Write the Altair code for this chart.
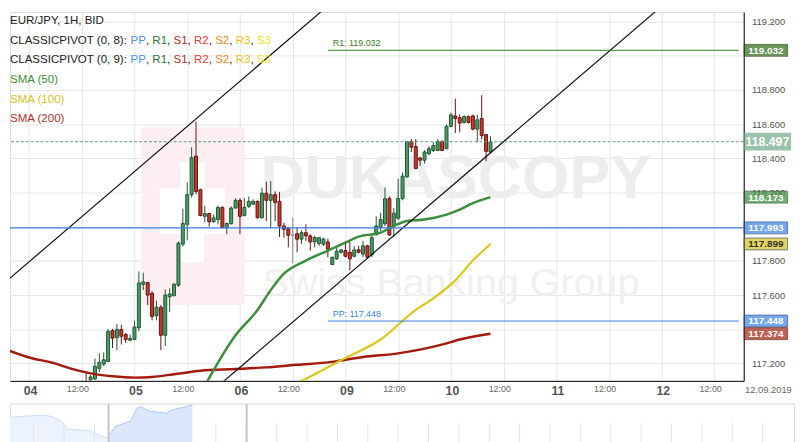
import json
import altair as alt
import pandas as pd

# ---------------- data ----------------
hours = list(range(13, 106))
opens = [117.090, 117.104, 117.109, 117.171, 117.196, 117.212, 117.392, 117.350, 117.398, 117.369,
         117.336, 117.340, 117.408, 117.663, 117.673, 117.610, 117.479, 117.529, 117.365, 117.590,
         117.596, 117.658, 117.898, 118.014, 118.187, 118.413, 118.216, 118.061, 118.077, 118.029,
         118.042, 118.113, 117.994, 118.017, 118.109, 118.154, 118.065, 118.119, 118.132, 118.148,
         118.052, 118.196, 118.154, 118.187, 118.148, 118.004, 117.988, 117.952, 117.959, 117.927,
         117.965, 117.946, 117.911, 117.902, 117.898, 117.911, 117.779, 117.812, 117.850, 117.860,
         117.850, 117.827, 117.865, 117.840, 117.888, 117.836, 117.956, 117.994, 118.017, 118.164,
         118.004, 118.050, 118.164, 118.292, 118.498, 118.469, 118.402, 118.389, 118.427, 118.446,
         118.446, 118.498, 118.456, 118.587, 118.648, 118.638, 118.610, 118.644, 118.648, 118.571,
         118.633, 118.539, 118.437]
highs = [117.150, 117.132, 117.229, 117.259, 117.265, 117.402, 117.402, 117.431, 117.427, 117.379,
         117.369, 117.450, 117.738, 117.731, 117.677, 117.623, 117.567, 117.542, 117.633, 117.639,
         117.671, 117.913, 118.106, 118.259, 118.465, 118.615, 118.223, 118.123, 118.081, 118.071,
         118.123, 118.119, 118.023, 118.119, 118.167, 118.167, 118.167, 118.177, 118.160, 118.154,
         118.229, 118.263, 118.267, 118.206, 118.202, 118.023, 117.998, 118.052, 117.998, 117.979,
         118.014, 117.956, 117.946, 117.940, 117.936, 117.930, 117.825, 117.883, 117.869, 117.917,
         117.913, 117.888, 117.888, 117.917, 117.894, 117.952, 118.061, 118.081, 118.229, 118.177,
         118.108, 118.281, 118.317, 118.500, 118.513, 118.512, 118.408, 118.448, 118.471, 118.494,
         118.512, 118.506, 118.598, 118.667, 118.748, 118.657, 118.652, 118.650, 118.656, 118.656,
         118.769, 118.542, 118.529]
lows = [117.000, 117.092, 117.104, 117.150, 117.184, 117.208, 117.290, 117.277, 117.311, 117.321,
        117.330, 117.336, 117.388, 117.629, 117.542, 117.452, 117.452, 117.278, 117.302, 117.500,
        117.594, 117.648, 117.883, 117.921, 118.171, 118.190, 118.061, 118.027, 118.000, 118.023,
        118.014, 117.992, 117.956, 118.014, 118.108, 117.956, 118.061, 118.109, 118.129, 118.048,
        118.048, 118.033, 117.994, 118.033, 117.940, 117.936, 117.879, 117.786, 117.850, 117.898,
        117.917, 117.860, 117.879, 117.888, 117.888, 117.821, 117.775, 117.806, 117.844, 117.821,
        117.744, 117.821, 117.844, 117.821, 117.812, 117.821, 117.946, 117.975, 118.004, 117.946,
        117.940, 118.038, 118.154, 118.286, 118.437, 118.337, 118.356, 118.369, 118.419, 118.437,
        118.442, 118.442, 118.454, 118.581, 118.548, 118.552, 118.604, 118.604, 118.563, 118.494,
        118.512, 118.383, 118.431]
closes = [117.050, 117.121, 117.183, 117.206, 117.221, 117.388, 117.348, 117.398, 117.359, 117.340,
          117.346, 117.413, 117.671, 117.677, 117.600, 117.475, 117.529, 117.365, 117.600, 117.606,
          117.663, 117.904, 118.019, 118.187, 118.404, 118.206, 118.065, 118.077, 118.029, 118.052,
          118.113, 117.994, 118.019, 118.109, 118.154, 118.061, 118.113, 118.148, 118.148, 118.052,
          118.196, 118.154, 118.187, 118.142, 118.004, 117.985, 117.950, 117.952, 117.927, 117.965,
          117.946, 117.911, 117.936, 117.936, 117.927, 117.869, 117.821, 117.856, 117.864, 117.827,
          117.812, 117.864, 117.850, 117.888, 117.821, 117.936, 118.004, 118.042, 118.164, 117.952,
          118.079, 118.165, 118.296, 118.498, 118.465, 118.340, 118.389, 118.437, 118.456, 118.475,
          118.498, 118.446, 118.587, 118.654, 118.633, 118.606, 118.644, 118.610, 118.571, 118.625,
          118.533, 118.441, 118.497]

sma50_h = [39, 47, 52, 55, 58, 63, 68, 72, 75, 80, 83, 86, 90, 95, 98, 101, 105]
sma50_v = [117.023, 117.365, 117.513, 117.629, 117.725, 117.802, 117.860, 117.907, 117.942,
           117.965, 118.004, 118.033, 118.042, 118.071, 118.100, 118.138, 118.173]
sma100_h = [60, 62, 71, 80, 88, 92, 97, 101, 105]
sma100_v = [117.075, 117.098, 117.219, 117.340, 117.513, 117.581, 117.686, 117.802, 117.899]
sma200_h = [-6, 0, 5, 10, 14, 19, 24, 28, 33, 39, 47, 54, 61, 69, 76, 84, 95, 98, 105]
sma200_v = [117.289, 117.235, 117.206, 117.167, 117.142, 117.125, 117.117, 117.121, 117.137,
            117.157, 117.167, 117.177, 117.192, 117.209, 117.238, 117.259, 117.317, 117.340, 117.374]

upper_h = [-6, 70]
upper_v = [117.662, 119.336]
lower_h = [40, 150]
lower_v = [117.001, 119.423]

r1_level = 119.032
pp_level = 117.448
prev_pp_level = 117.993
pivot_start = 68
last_price = 118.497

y_ticks = [117.2, 117.4, 117.6, 117.8, 118.0, 118.2, 118.4, 118.6, 118.8, 119.0, 119.2]
y_hidden = ["117.400", "118.000", "119.000"]   # labels covered by the price boxes
x_ticks = list(range(0, 157, 12))
day_names = ["04", "05", "06", "09", "10", "11", "12"]

box_values = [119.032, 118.173, 117.993, 117.899, 117.448, 117.374]
box_labels = ["119.032", "118.173", "117.993", "117.899", "117.448", "117.374"]

nav_idx = [0, 20, 40, 50, 60, 67, 80, 90, 100, 107, 108, 110, 115, 130, 137, 140, 150, 167, 173, 187, 193]
nav_val = [25.3, 27, 28, 27, 22, 14, 13, 12, 7, 5.3, 7, 10, 17, 22, 35.3, 37, 32, 30.3, 33.7, 37, 38.7]
nav_sel_start = 108
nav_sel_end = 248
nav_tick_idx = [round(1.2 + 30.8 * k, 1) for k in range(1, 26)]

# ---------------- style ----------------
OFF = 8                      # page margin: chart coords = reference coords - OFF
W, H = 752 - OFF, 382 - OFF
FONT = "Liberation Sans"
X_DOMAIN = [-3.21, 161.5]
Y_DOMAIN = [117.098, 119.256]
xscale = alt.Scale(domain=X_DOMAIN, nice=False, zero=False)
yscale = alt.Scale(domain=Y_DOMAIN, nice=False, zero=False)

day_test = "datum.value % 24 === 0"
label_expr = "%s ? %s[floor(datum.value / 24)] : '12:00'" % (day_test, json.dumps(day_names))
ylabel_expr = "indexof(%s, datum.label) >= 0 ? '' : datum.label" % json.dumps(y_hidden)

xaxis = alt.Axis(values=x_ticks, labelExpr=label_expr, grid=True, gridColor="#e6e6e6",
                 ticks=False, domain=True, domainColor="#000000", domainWidth=1,
                 labelPadding=4, labelFont=FONT,
                 labelFontSize={"condition": {"test": day_test, "value": 12.5}, "value": 9},
                 labelFontWeight={"condition": {"test": day_test, "value": "bold"}, "value": "normal"},
                 labelColor={"condition": {"test": day_test, "value": "#555555"}, "value": "#666666"},
                 labelOffset={"condition": {"test": day_test, "value": 1}, "value": -4.5},
                 labelFlush=False, labelOverlap=False, title=None, minExtent=20, maxExtent=20)
yaxis = alt.Axis(orient="right", values=y_ticks, format=".3f", labelExpr=ylabel_expr,
                 grid=True, gridColor="#e6e6e6",
                 ticks=False, domain=True, domainColor="#000000", domainWidth=1,
                 labelPadding=8, labelFontSize=9.5, labelColor="#555555", labelFont=FONT,
                 labelFlush=False, labelOverlap=False, title=None)


def X(field="h"):
    return alt.X(f"{field}:Q", scale=xscale, axis=xaxis)


def Y(field="v"):
    return alt.Y(f"{field}:Q", scale=yscale, axis=yaxis)


def px(v):
    return alt.value(v - OFF)


one = alt.Data(values=[{"a": 1}])

# ---------------- watermark ----------------
wm = [
    alt.Chart(one).mark_rect(color="#fdeff1").encode(
        x=px(141), x2=px(246), y=px(125), y2=px(305)),
    alt.Chart(one).mark_rect(color="#ffffff").encode(
        x=px(160), x2=px(226), y=px(187), y2=px(233)),
    alt.Chart(one).mark_rect(color="#ffffff").encode(
        x=px(181), x2=px(205), y=px(160), y2=px(262)),
    alt.Chart(one).mark_text(text="DUKASCOPY", font=FONT, fontSize=62, fontWeight="bold",
                             color="#ededed", align="left", baseline="alphabetic").encode(
        x=px(262), y=px(197)),
    alt.Chart(one).mark_text(text="Swiss Banking Group", font=FONT, fontSize=40,
                             color="#f0f0f0", align="left", baseline="alphabetic").encode(
        x=px(264), y=px(296)),
]

# ---------------- candles ----------------
cdf = pd.DataFrame({"h": hours, "o": opens, "hi": highs, "lo": lows, "c": closes})
cdf["dir"] = ["up" if c > o else ("down" if c < o else "flat") for o, c in zip(opens, closes)]
stroke_scale = alt.Scale(domain=["up", "down", "flat"], range=["#1d5630", "#6a1010", "#8a8a8a"])
fill_scale = alt.Scale(domain=["up", "down", "flat"], range=["#4b9a69", "#c23b2c", "#8a8a8a"])

wicks = alt.Chart(cdf).mark_rule(strokeWidth=1, clip=True).encode(
    x=X(), y=Y("lo"), y2="hi:Q", stroke=alt.Stroke("dir:N", scale=stroke_scale, legend=None))
bodies = alt.Chart(cdf).mark_bar(size=3, strokeWidth=1, clip=True, orient="vertical").encode(
    x=X(), y=Y("o"), y2="c:Q",
    fill=alt.Fill("dir:N", scale=fill_scale, legend=None),
    stroke=alt.Stroke("dir:N", scale=stroke_scale, legend=None))


def line_layer(hs, vs, color, width, interp="monotone"):
    d = pd.DataFrame({"h": hs, "v": vs})
    return alt.Chart(d).mark_line(color=color, strokeWidth=width, clip=True,
                                  interpolate=interp).encode(x=X(), y=Y())


sma200 = line_layer(sma200_h, sma200_v, "#a3190b", 2.5)
sma100 = line_layer(sma100_h, sma100_v, "#d8c81c", 2.2)
sma50 = line_layer(sma50_h, sma50_v, "#3c8d3c", 2.5)
ch_up = line_layer(upper_h, upper_v, "#111111", 1.2, "linear")
ch_lo = line_layer(lower_h, lower_v, "#111111", 1.2, "linear")

# ---------------- levels ----------------
prev_pp = alt.Chart(pd.DataFrame({"v": [prev_pp_level]})).mark_rule(
    color="#3b7fe0", strokeWidth=1.3).encode(y=Y())
price_line = alt.Chart(pd.DataFrame({"v": [last_price]})).mark_rule(
    color="#5f9a78", strokeWidth=1, strokeDash=[3, 2]).encode(y=Y())
lv = pd.DataFrame({"h": [pivot_start, pivot_start], "h1": [X_DOMAIN[1], X_DOMAIN[1]],
                   "v": [r1_level, pp_level],
                   "t": ["R1: %.3f" % r1_level, "PP: %.3f" % pp_level],
                   "col": ["#3b7a1f", "#3b7fe0"]})
lev_rules = alt.Chart(lv).mark_rule(strokeWidth=1).encode(
    x=X(), x2="h1:Q", y=Y(), stroke=alt.Stroke("col:N", scale=None))
lev_text = alt.Chart(lv).mark_text(align="left", baseline="bottom", dx=5, dy=-2,
                                   fontSize=9, font=FONT).encode(
    x=X(), y=Y(), text="t:N", color=alt.Color("col:N", scale=None))

# ---------------- right side boxes ----------------
bdf = pd.DataFrame({"v": box_values, "t": box_labels,
                    "fill": ["#2c6a12", "#3b8c3b", "#3b82e6", "#d4c61e", "#3b82e6", "#a51d0c"],
                    "stroke": ["#1a3a0a", "#1d4a1d", "#1b3c80", "#444444", "#1b3c80", "#5a0f05"],
                    "tc": ["#ffffff", "#ffffff", "#ffffff", "#333333", "#ffffff", "#ffffff"]})
boxes = alt.Chart(bdf).mark_tick(orient="horizontal", size=44, thickness=12, filled=True,
                                 strokeWidth=1).encode(
    x=px(774.5), y=Y(), fill=alt.Fill("fill:N", scale=None),
    stroke=alt.Stroke("stroke:N", scale=None))
box_text = alt.Chart(bdf).mark_text(fontSize=10, fontWeight="bold", font=FONT,
                                    align="center", baseline="middle", dy=0.5).encode(
    x=px(774.5), y=Y(), text="t:N", color=alt.Color("tc:N", scale=None))
pdf = pd.DataFrame({"v": [last_price], "t": ["%.3f" % last_price]})
price_box = alt.Chart(pdf).mark_tick(orient="horizontal", size=48, thickness=18, filled=True,
                                     color="#6fa888").encode(x=px(776), y=Y())
price_text = alt.Chart(pdf).mark_text(fontSize=12.5, fontWeight="bold", font=FONT,
                                      align="center", baseline="middle", dy=0.5,
                                      color="#ffffff").encode(
    x=px(776), y=Y(), text="t:N")
date_text = alt.Chart(one).mark_text(text="12.09.2019", fontSize=9.5, font=FONT,
                                     color="#666666", align="center", baseline="middle").encode(
    x=px(777), y=px(391))

# ---------------- legend text (top-left) ----------------
AW = {" ": .278, "(": .333, ")": .333, ",": .278, ":": .278, "/": .278, "A": .667, "B": .667,
      "C": .722, "D": .722, "E": .667, "H": .722, "I": .278, "J": .5, "L": .556, "M": .833,
      "O": .778, "P": .667, "R": .722, "S": .667, "T": .611, "U": .722, "V": .667, "Y": .667}
FS = 11.7
BLACK = "#222222"
piv_cols = [("PP", "#4f93e8"), ("R1", "#2f7a2f"), ("S1", "#b0302a"), ("R2", "#ee3b3b"),
            ("S2", "#f0852a"), ("R3", "#f2c21b"), ("S3", "#efe31a")]


def pivot_line(n):
    segs = [("CLASSICPIVOT (0, %d): " % n, BLACK)]
    for i, (tok, col) in enumerate(piv_cols):
        segs.append((tok, col))
        if i < len(piv_cols) - 1:
            segs.append((", ", BLACK))
    return segs


legend_lines = [
    [("EUR/JPY, 1H, BID", BLACK)],
    pivot_line(8),
    pivot_line(9),
    [("SMA (50)", "#3d8c3d")],
    [("SMA (100)", "#d4c41e")],
    [("SMA (200)", "#b0352a")],
]
leg_rows = []
for li, segs in enumerate(legend_lines):
    xpos = 0.0
    for txt, col in segs:
        leg_rows.append({"t": txt, "x": xpos, "y": 20 + 20 * li - OFF, "col": col})
        xpos += sum(AW.get(ch, .556) for ch in txt) * FS
legend_layers = [
    alt.Chart(one).mark_text(text=r["t"], fontSize=FS, font=FONT, color=r["col"],
                             align="left", baseline="alphabetic").encode(
        x=alt.value(r["x"]), y=alt.value(r["y"]))
    for r in leg_rows
]

main = alt.layer(
    *wm, wicks, bodies, sma200, sma100, sma50, ch_up, ch_lo,
    prev_pp, price_line, lev_rules, lev_text,
    boxes, box_text, price_box, price_text, date_text, *legend_layers
).properties(width=W, height=H)

# ---------------- navigator ----------------
nav_df = pd.DataFrame({"i": nav_idx, "v": nav_val})
NW = 803 - OFF
nx = alt.Scale(domain=[OFF, 803], nice=False, zero=False)
ny = alt.Scale(domain=[0, 40], nice=False, zero=False)
light = nav_df[nav_df["i"] <= nav_sel_start]
sel = nav_df[nav_df["i"] >= nav_sel_start]


def nav_enc(ch):
    return ch.encode(x=alt.X("i:Q", scale=nx, axis=None), y=alt.Y("v:Q", scale=ny, axis=None))


nav = alt.layer(
    nav_enc(alt.Chart(light).mark_area(color="#edf3fd", clip=True)),
    nav_enc(alt.Chart(light).mark_line(color="#c6d9f6", strokeWidth=1, clip=True)),
    nav_enc(alt.Chart(sel).mark_area(color="#dbe7fb")),
    nav_enc(alt.Chart(sel).mark_line(color="#a9c6f5", strokeWidth=1)),
    alt.Chart(pd.DataFrame({"i": nav_tick_idx})).mark_rule(color="#e3e3e3", strokeWidth=1).encode(
        x=alt.X("i:Q", scale=nx, axis=None), y=alt.value(20), y2=alt.value(40)),
    alt.Chart(pd.DataFrame({"i": [nav_sel_start, nav_sel_end]})).mark_rule(
        color="#c4c4c4", strokeWidth=2).encode(x=alt.X("i:Q", scale=nx, axis=None)),
    alt.Chart(one).mark_rule(color="#e6e6e6", strokeWidth=1).encode(
        x=alt.value(0), x2=alt.value(NW), y=alt.value(0.5)),
).properties(width=NW, height=40)

chart = alt.vconcat(main, nav, spacing=0).properties(
    padding=0,
    background="#ffffff",
).configure_view(stroke=None).configure(font=FONT)

chart.save("out.html", embed_options={"renderer": "svg", "actions": False})
